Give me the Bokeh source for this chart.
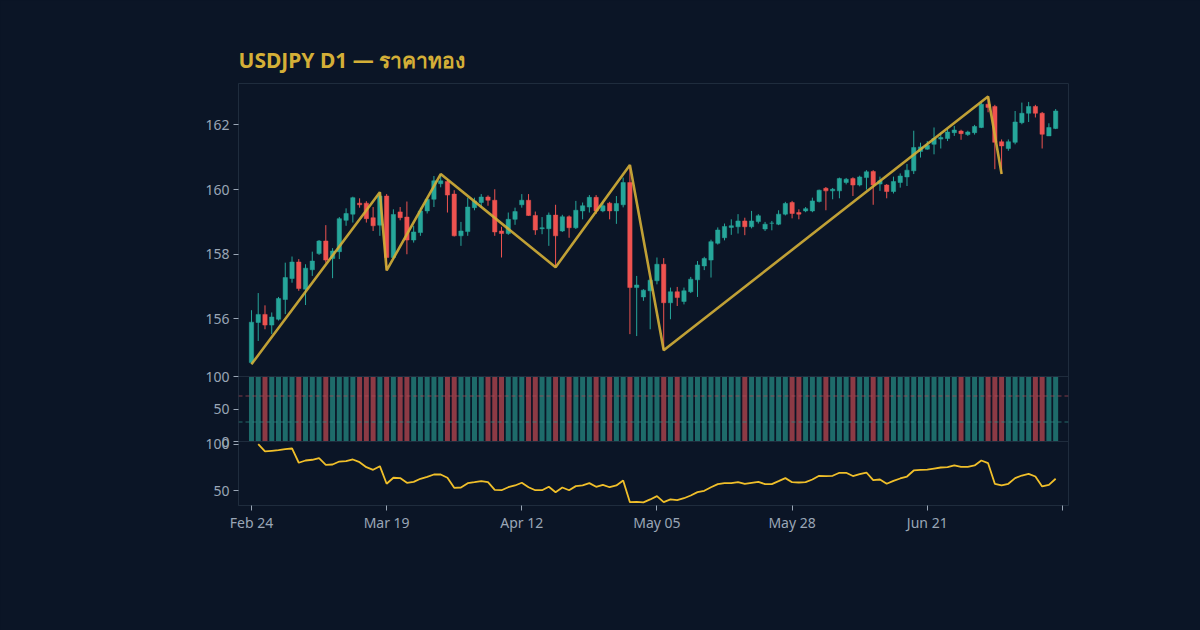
import math

from bokeh.plotting import figure
from bokeh.models import Range1d, FixedTicker, Span, Label, ColumnDataSource
from bokeh.embed import file_html
from bokeh.resources import INLINE

# ---------------------------------------------------------------- data
open_ = [154.65, 155.89, 156.14, 155.81, 155.99, 156.60, 157.25, 157.76, 156.92, 157.52,
         158.02, 158.41, 157.87, 158.08, 159.05, 159.24, 159.58, 159.58, 159.13, 158.90,
         159.80, 157.90, 159.31, 159.15, 158.44, 158.67, 159.34, 159.70, 160.18, 160.25,
         159.86, 158.57, 158.70, 159.44, 159.60, 159.77, 159.67, 158.72, 158.64, 159.08,
         159.53, 159.67, 159.20, 158.79, 158.79, 159.21, 158.72, 159.16, 158.82, 159.34,
         159.46, 159.76, 159.34, 159.58, 159.34, 159.53, 160.22, 156.97, 156.68, 156.87,
         157.18, 157.69, 156.50, 156.84, 156.54, 156.84, 157.21, 157.64, 157.82, 158.34,
         158.51, 158.83, 158.85, 159.03, 158.85, 159.01, 158.78, 158.96, 158.93, 159.24,
         159.60, 159.29, 159.34, 159.34, 159.63, 160.04, 159.96, 159.96, 160.22, 160.34,
         160.14, 160.37, 160.56, 160.17, 160.14, 159.94, 160.22, 160.39, 160.58, 161.18,
         161.25, 161.40, 161.56, 161.58, 161.76, 161.81, 161.70, 161.76, 161.92, 162.64,
         162.57, 161.48, 161.27, 161.46, 162.07, 162.36, 162.57, 162.36, 161.66, 161.89]
high = [156.27, 156.80, 156.42, 156.20, 156.68, 157.74, 157.93, 157.85, 157.69, 158.08,
        158.44, 158.90, 158.19, 159.15, 159.42, 159.78, 159.73, 159.64, 159.46, 159.92,
        159.86, 159.39, 159.46, 159.63, 158.88, 159.44, 159.75, 160.42, 160.48, 160.33,
        159.98, 159.00, 159.75, 159.75, 159.86, 159.82, 160.01, 158.85, 159.29, 159.44,
        159.86, 159.86, 159.32, 159.15, 159.29, 159.53, 159.22, 159.20, 159.65, 159.60,
        159.83, 159.83, 159.60, 159.62, 159.80, 160.37, 160.76, 157.33, 156.92, 157.25,
        157.90, 157.88, 156.97, 156.99, 156.97, 157.30, 157.79, 157.92, 158.45, 158.83,
        158.95, 159.08, 159.24, 159.13, 159.34, 159.24, 159.00, 159.03, 159.36, 159.62,
        159.65, 159.39, 159.46, 159.75, 160.00, 160.08, 160.05, 160.37, 160.36, 160.38,
        160.43, 160.60, 160.60, 160.40, 160.17, 160.40, 160.50, 160.79, 161.82, 161.45,
        161.50, 161.92, 161.76, 161.87, 161.97, 161.85, 161.82, 162.00, 162.69, 162.88,
        162.62, 161.55, 161.55, 162.43, 162.69, 162.71, 162.62, 162.40, 162.05, 162.49]
low = [154.60, 155.32, 155.68, 155.53, 155.95, 156.15, 157.12, 156.87, 156.43, 157.33,
       157.98, 157.74, 157.26, 157.85, 158.88, 158.98, 159.44, 158.98, 158.72, 158.57,
       157.50, 157.85, 159.05, 158.00, 158.36, 158.57, 159.26, 159.46, 160.07, 159.29,
       158.55, 158.26, 158.57, 159.36, 159.44, 159.50, 158.57, 157.90, 158.60, 158.91,
       159.44, 159.19, 158.60, 158.62, 158.26, 157.60, 158.69, 158.51, 158.78, 159.08,
       159.29, 159.25, 159.30, 159.08, 158.94, 159.45, 155.53, 155.47, 156.56, 155.68,
       157.07, 155.03, 155.99, 156.40, 156.45, 156.80, 156.68, 157.51, 157.28, 158.30,
       158.43, 158.60, 158.64, 158.59, 158.80, 158.95, 158.72, 158.74, 158.90, 159.20,
       159.11, 159.08, 159.30, 159.30, 159.60, 159.36, 159.70, 159.73, 160.16, 159.80,
       160.10, 160.00, 159.53, 159.96, 159.73, 159.88, 160.06, 160.11, 160.48, 160.99,
       161.23, 161.09, 161.27, 161.50, 161.66, 161.54, 161.66, 161.70, 161.90, 162.39,
       160.63, 160.48, 161.20, 161.40, 162.02, 162.09, 162.23, 161.27, 161.66, 161.87]
close = [155.90, 156.14, 155.81, 156.06, 156.63, 157.28, 157.76, 156.94, 157.57, 157.79,
         158.41, 157.82, 158.10, 159.10, 159.26, 159.75, 159.53, 159.10, 158.88, 159.80,
         157.90, 159.23, 159.13, 158.44, 158.69, 159.34, 159.70, 160.27, 160.27, 159.83,
         158.57, 158.72, 159.46, 159.65, 159.77, 159.67, 158.69, 158.64, 159.08, 159.32,
         159.67, 159.20, 158.75, 158.82, 159.21, 158.57, 159.16, 158.82, 159.36, 159.50,
         159.76, 159.34, 159.50, 159.34, 159.57, 160.22, 156.97, 157.05, 156.89, 157.20,
         157.69, 156.50, 156.84, 156.66, 156.87, 157.23, 157.67, 157.87, 158.39, 158.75,
         158.86, 158.88, 159.03, 158.85, 159.03, 159.19, 158.93, 158.96, 159.24, 159.57,
         159.26, 159.24, 159.41, 159.65, 159.98, 159.96, 160.01, 160.34, 160.32, 160.14,
         160.39, 160.55, 160.14, 160.27, 159.94, 160.25, 160.42, 160.60, 161.30, 161.32,
         161.37, 161.58, 161.61, 161.78, 161.84, 161.73, 161.78, 161.95, 162.64, 162.54,
         161.46, 161.35, 161.48, 162.09, 162.36, 162.57, 162.36, 161.71, 161.92, 162.43]

# volume strength, capped at the top of its 0-100 pane
volume_pct = [100] * 120

# oscillator (no value on the first bar)
oscillator = [float("nan"),
              100.0, 92.2, 92.9, 93.6, 94.7, 95.4, 80.1, 82.5, 83.3, 85.0,
              77.9, 78.2, 81.4, 81.8, 83.6, 80.7, 75.3, 72.5, 76.4, 57.5,
              64.0, 63.6, 58.6, 59.6, 62.9, 65.0, 67.5, 67.5, 64.0, 53.2,
              53.5, 58.2, 59.2, 60.3, 59.2, 51.0, 50.6, 53.8, 55.7, 58.6,
              53.8, 50.6, 50.6, 54.3, 48.5, 53.5, 50.6, 55.0, 55.7, 58.2,
              54.3, 56.4, 53.8, 55.7, 61.1, 37.8, 38.2, 37.5, 40.7, 44.2,
              37.8, 40.7, 39.9, 42.0, 44.9, 48.5, 50.0, 53.8, 57.1, 58.2,
              58.2, 59.2, 57.5, 58.6, 59.6, 57.1, 57.1, 60.3, 63.6, 59.2,
              58.9, 59.2, 62.1, 66.1, 65.8, 66.1, 69.3, 69.3, 65.8, 67.8,
              69.6, 61.4, 62.1, 57.5, 60.7, 63.2, 65.3, 71.8, 72.5, 72.8,
              73.9, 75.0, 75.3, 77.2, 75.7, 75.7, 77.2, 82.5, 79.6, 57.5,
              55.7, 57.5, 63.6, 66.4, 68.1, 65.3, 54.7, 56.4, 62.9]

# zigzag swing points: bar index and whether it is a swing high
pivot_index = [0, 19, 20, 28, 45, 56, 61, 109, 111]
pivot_is_high = [False, True, False, True, False, True, False, True, False]

tick_index = [0, 20, 40, 60, 80, 100, 120]
tick_labels = ["Feb 24", "Mar 19", "Apr 12", "May 05", "May 28", "Jun 21", ""]

price_ticks = [156, 158, 160, 162]
volume_ticks = [0, 50, 100]
osc_ticks = [50, 100]
overbought, oversold = 70, 30

# ---------------------------------------------------------------- styling
BG = "#0b1526"
EDGE = "#1f2c3d"
TEXT = "#9aa6b6"
UP = "#26a69a"
DOWN = "#ef5350"
UP_BAR = "#1e6b6a"
DOWN_BAR = "#8c3a45"
GOLD = "#d4af37"
OSC = "#f0bf2a"
FONT = "Noto Sans"

# the three panes share one frame; heights in pixels from top to bottom
PRICE_H, VOL_H, OSC_H = 293, 65, 64
PRICE_LO, PRICE_HI = 154.22, 163.28
VOL_LO, VOL_HI = 0.0, 100.0
OSC_LO, OSC_HI = 34.2, 102.9


def stretched(lo, hi, h, below, above):
    """Extend a pane's value range so it lands on its band of the frame."""
    upp = (hi - lo) / h
    return lo - below * upp, hi + above * upp


y_lo, y_hi = stretched(PRICE_LO, PRICE_HI, PRICE_H, VOL_H + OSC_H, 0)
v_lo, v_hi = stretched(VOL_LO, VOL_HI, VOL_H, OSC_H, PRICE_H)
o_lo, o_hi = stretched(OSC_LO, OSC_HI, OSC_H, 0, PRICE_H + VOL_H)


def on_main_axis(v, lo, hi):
    return round(y_lo + (v - lo) / (hi - lo) * (y_hi - y_lo), 6)


n = len(close)
idx = list(range(n))
rising = [c >= o for o, c in zip(open_, close)]

src = ColumnDataSource(dict(
    x=idx,
    open=open_, high=high, low=low, close=close,
    top=[max(o, c) for o, c in zip(open_, close)],
    bottom=[min(o, c) for o, c in zip(open_, close)],
    color=[UP if r else DOWN for r in rising],
    bar_color=[UP_BAR if r else DOWN_BAR for r in rising],
    vol=volume_pct,
    osc=oscillator,
))

p = figure(
    width=1200, height=630,
    x_range=Range1d(-1.92, 120.9),
    y_range=Range1d(y_lo, y_hi),
    output_backend="svg", toolbar_location=None,
    min_border_left=238, min_border_right=132,
    min_border_top=83, min_border_bottom=125,
    background_fill_color=BG, border_fill_color=BG,
    outline_line_color=EDGE,
)
p.stylesheets = [":host { background-color: #0b1526; }"]
p.extra_y_ranges = {"vol": Range1d(v_lo, v_hi), "osc": Range1d(o_lo, o_hi)}

p.title.text = "USDJPY D1 — ราคาทอง"
p.title.text_color = GOLD
p.title.text_font = FONT
p.title.text_font_size = "21px"
p.title.text_font_style = "bold"
p.title.align = "left"
p.title.standoff = 19

p.xgrid.visible = False
p.ygrid.visible = False

# candles
p.segment(x0="x", y0="low", x1="x", y1="high", color="color", line_width=1, source=src)
p.vbar(x="x", top="top", bottom="bottom", width=0.64, fill_color="color",
       line_color="color", line_width=0.5, source=src)

# zigzag through swing highs and lows
pivot_price = [high[i] if h else low[i] for i, h in zip(pivot_index, pivot_is_high)]
p.line(pivot_index, pivot_price, line_color=GOLD, line_width=2.6, line_alpha=0.9)

# volume pane
p.vbar(x="x", top="vol", bottom=0, width=0.74, fill_color="bar_color",
       line_color=None, y_range_name="vol", source=src)
for loc in (VOL_HI, VOL_LO):
    p.add_layout(Span(location=loc, dimension="width", y_range_name="vol",
                      line_color=EDGE, line_width=1))
p.add_layout(Span(location=overbought, dimension="width", y_range_name="vol",
                  line_color="#b04a55", line_alpha=0.7, line_dash="4 3", line_width=1))
p.add_layout(Span(location=oversold, dimension="width", y_range_name="vol",
                  line_color="#2f8f88", line_alpha=0.7, line_dash="4 3", line_width=1))

# oscillator pane
p.line(x="x", y="osc", line_color=OSC, line_width=1.8, y_range_name="osc", source=src)

# left axis carries the labels of all three panes
yax = p.yaxis[0]
positions, labels = [], {}
for v in price_ticks:
    pos = float(v)
    positions.append(pos)
    labels[pos] = str(v)
for v in volume_ticks:
    pos = on_main_axis(v, v_lo, v_hi)
    positions.append(pos)
    labels[pos] = str(v)
for v in osc_ticks:
    pos = on_main_axis(v, o_lo, o_hi)
    positions.append(pos)
    labels[pos] = str(v)
yax.ticker = FixedTicker(ticks=positions)
yax.major_label_overrides = labels

xax = p.xaxis[0]
xax.ticker = FixedTicker(ticks=tick_index)
xax.major_label_overrides = {i: t for i, t in zip(tick_index, tick_labels)}

for ax in (xax, yax):
    ax.axis_line_color = EDGE
    ax.major_tick_line_color = TEXT
    ax.major_tick_in = 0
    ax.major_tick_out = 5
    ax.minor_tick_line_color = None
    ax.major_label_text_color = TEXT
    ax.major_label_text_font = FONT
    ax.major_label_text_font_size = "14px"
    ax.major_label_standoff = 4
xax.major_label_standoff = 2

p.add_layout(Label(x=-9.2, y=(PRICE_LO + PRICE_HI) / 2, text="Price", angle=math.pi / 2,
                   text_align="center", text_baseline="middle", text_color="#dde3ea",
                   text_font=FONT, text_font_size="14px"))

open("out.html", "w").write(file_html(p, INLINE))
